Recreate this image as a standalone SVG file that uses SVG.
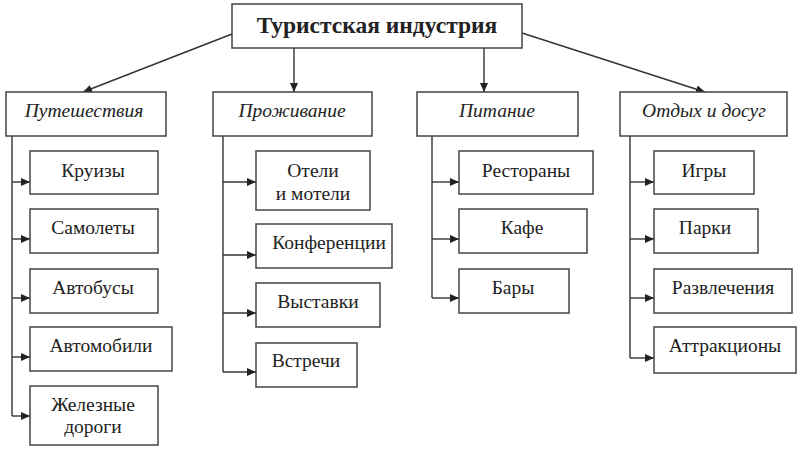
<svg xmlns="http://www.w3.org/2000/svg" width="800" height="450" viewBox="0 0 800 450">
<defs>
<marker id="ah" markerUnits="userSpaceOnUse" markerWidth="10" markerHeight="8" refX="9" refY="4" orient="auto">
<path d="M0,0 L9,4 L0,8 Z" fill="#222"/>
</marker>
<style>
rect{fill:#fff;stroke:#444;stroke-width:1.5}
text{fill:#222;text-anchor:middle}
.t{font-size:23.5px;font-weight:bold}
.c{font-size:19.5px;font-style:italic}
.i{font-size:19.5px}
#conn line,#conn path{stroke:#333;stroke-width:1.4;fill:none}
</style>
</defs>
<rect width="800" height="450" style="fill:#fff;stroke:none"/>
<g id="conn">
<line x1="232" y1="34" x2="83" y2="92" marker-end="url(#ah)"/>
<line x1="294" y1="48" x2="294" y2="92" marker-end="url(#ah)"/>
<line x1="484" y1="48" x2="484" y2="92" marker-end="url(#ah)"/>
<line x1="522" y1="33" x2="705" y2="92" marker-end="url(#ah)"/>
<path d="M12,136 V416"/>
<line x1="12" y1="182" x2="30" y2="182" marker-end="url(#ah)"/>
<line x1="12" y1="239" x2="30" y2="239" marker-end="url(#ah)"/>
<line x1="12" y1="298" x2="30" y2="298" marker-end="url(#ah)"/>
<line x1="12" y1="357" x2="30" y2="357" marker-end="url(#ah)"/>
<line x1="12" y1="416" x2="30" y2="416" marker-end="url(#ah)"/>
<path d="M223,136 V372"/>
<line x1="223" y1="182" x2="256" y2="182" marker-end="url(#ah)"/>
<line x1="223" y1="255" x2="256" y2="255" marker-end="url(#ah)"/>
<line x1="223" y1="313" x2="256" y2="313" marker-end="url(#ah)"/>
<line x1="223" y1="372" x2="256" y2="372" marker-end="url(#ah)"/>
<path d="M432,136 V298"/>
<line x1="432" y1="182" x2="459" y2="182" marker-end="url(#ah)"/>
<line x1="432" y1="239" x2="459" y2="239" marker-end="url(#ah)"/>
<line x1="432" y1="298" x2="459" y2="298" marker-end="url(#ah)"/>
<path d="M630,136 V358"/>
<line x1="630" y1="182" x2="654" y2="182" marker-end="url(#ah)"/>
<line x1="630" y1="239" x2="654" y2="239" marker-end="url(#ah)"/>
<line x1="630" y1="298" x2="654" y2="298" marker-end="url(#ah)"/>
<line x1="630" y1="358" x2="654" y2="358" marker-end="url(#ah)"/>
</g>
<g id="root"><rect x="232" y="4" width="290" height="44"/><text font-family="Liberation Serif" class="t" x="377" y="33">Туристская индустрия</text></g>
<g id="travel"><rect x="6" y="92" width="160" height="44"/><text font-family="Liberation Serif" class="c" x="84" y="117">Путешествия</text></g>
<g id="stay"><rect x="213" y="92" width="159" height="44"/><text font-family="Liberation Serif" class="c" x="292" y="117">Проживание</text></g>
<g id="food"><rect x="417" y="92" width="161" height="44"/><text font-family="Liberation Serif" class="c" x="497" y="117">Питание</text></g>
<g id="leisure"><rect x="620" y="92" width="167" height="44"/><text font-family="Liberation Serif" class="c" x="704" y="117">Отдых и досуг</text></g>

<g id="cruise"><rect x="30" y="151" width="128" height="43"/><text font-family="Liberation Serif" class="i" x="93" y="177">Круизы</text></g>
<g id="planes"><rect x="30" y="209" width="128" height="44"/><text font-family="Liberation Serif" class="i" x="93" y="234">Самолеты</text></g>
<g id="buses"><rect x="30" y="269" width="128" height="44"/><text font-family="Liberation Serif" class="i" x="93" y="294">Автобусы</text></g>
<g id="cars"><rect x="30" y="327" width="142" height="44"/><text font-family="Liberation Serif" class="i" x="101" y="352">Автомобили</text></g>
<g id="rail"><rect x="30" y="386" width="128" height="59"/><text font-family="Liberation Serif" class="i" x="93" y="411">Железные</text><text font-family="Liberation Serif" class="i" x="93" y="433">дороги</text></g>

<g id="hotels"><rect x="256" y="151" width="114" height="59"/><text font-family="Liberation Serif" class="i" x="313" y="177">Отели</text><text font-family="Liberation Serif" class="i" x="313" y="200">и мотели</text></g>
<g id="conf"><rect x="256" y="224" width="136" height="44"/><text font-family="Liberation Serif" class="i" x="329" y="249">Конференции</text></g>
<g id="expo"><rect x="256" y="283" width="124" height="44"/><text font-family="Liberation Serif" class="i" x="318" y="308">Выставки</text></g>
<g id="meet"><rect x="256" y="343" width="101" height="44"/><text font-family="Liberation Serif" class="i" x="306" y="367">Встречи</text></g>

<g id="rest"><rect x="459" y="151" width="134" height="43"/><text font-family="Liberation Serif" class="i" x="526" y="177">Рестораны</text></g>
<g id="cafe"><rect x="459" y="209" width="128" height="44"/><text font-family="Liberation Serif" class="i" x="522" y="234">Кафе</text></g>
<g id="bars"><rect x="459" y="269" width="110" height="44"/><text font-family="Liberation Serif" class="i" x="513" y="294">Бары</text></g>

<g id="games"><rect x="654" y="151" width="100" height="43"/><text font-family="Liberation Serif" class="i" x="704" y="177">Игры</text></g>
<g id="parks"><rect x="654" y="209" width="104" height="44"/><text font-family="Liberation Serif" class="i" x="705" y="234">Парки</text></g>
<g id="ent"><rect x="654" y="269" width="138" height="44"/><text font-family="Liberation Serif" class="i" x="723" y="294">Развлечения</text></g>
<g id="attr"><rect x="654" y="327" width="142" height="46"/><text font-family="Liberation Serif" class="i" x="725" y="352">Аттракционы</text></g>
</svg>
